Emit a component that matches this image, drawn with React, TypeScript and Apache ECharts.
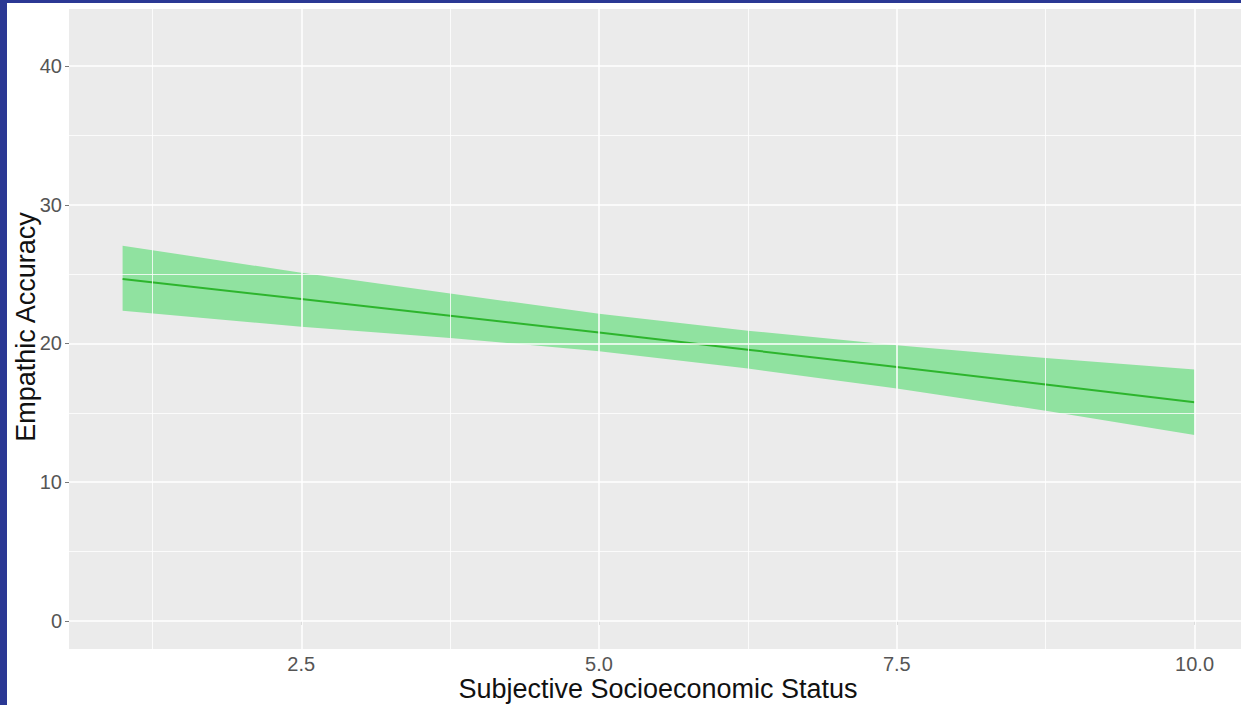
import React, { useEffect, useRef } from "react";
import * as echarts from "echarts";

// Fitted regression line and its confidence band
const xValues = [1, 2.5, 3.75, 5, 6.25, 7.5, 8.75, 10];
const fitValues = [24.65, 23.2, 22.0, 20.8, 19.55, 18.3, 17.05, 15.76];
const upperValues = [27.05, 25.1, 23.6, 22.15, 20.92, 19.88, 18.95, 18.12];
const lowerValues = [22.36, 21.2, 20.4, 19.45, 18.2, 16.75, 15.15, 13.4];

const xTicks = [2.5, 5.0, 7.5, 10.0];
const xMinorTicks = [1.25, 3.75, 6.25, 8.75];
const yTicks = [0, 10, 20, 30, 40];
const yMinorTicks = [5, 15, 25, 35];

const xTitle = "Subjective Socioeconomic Status";
const yTitle = "Empathic Accuracy";

const FONT = "'Liberation Sans', Arial, sans-serif";

export default function App() {
  const ref = useRef<HTMLDivElement>(null);

  useEffect(() => {
    if (!ref.current) return;
    const chart = echarts.init(ref.current, undefined, { renderer: "svg" });

    const gridLines = [
      ...xMinorTicks.map((v) => ({ xAxis: v, lineStyle: { width: 0.8 } })),
      ...yMinorTicks.map((v) => ({ yAxis: v, lineStyle: { width: 0.8 } })),
      ...xTicks.map((v) => ({ xAxis: v, lineStyle: { width: 1.5 } })),
      ...yTicks.map((v) => ({ yAxis: v, lineStyle: { width: 1.5 } })),
    ];

    chart.setOption({
      animation: false,
      backgroundColor: "#ffffff",
      grid: {
        left: 69,
        right: 0,
        top: 9,
        bottom: 56,
        show: true,
        backgroundColor: "#EBEBEB",
        borderWidth: 0,
      },
      xAxis: {
        type: "value",
        min: 0.55,
        max: 10.39,
        splitLine: { show: false },
        axisLine: { show: false },
        axisTick: {
          show: true,
          customValues: xTicks,
          length: 4,
          lineStyle: { color: "#777", width: 1 },
        },
        axisLabel: {
          customValues: xTicks,
          formatter: (v: number) => v.toFixed(1),
          fontSize: 20,
          color: "#555555",
          fontFamily: FONT,
          margin: 5,
        },
      },
      yAxis: {
        type: "value",
        min: -2.02,
        max: 44.11,
        splitLine: { show: false },
        axisLine: { show: false },
        axisTick: {
          show: true,
          customValues: yTicks,
          length: 4,
          lineStyle: { color: "#777", width: 1 },
        },
        axisLabel: {
          customValues: yTicks,
          formatter: (v: number) => String(v),
          fontSize: 20,
          color: "#555555",
          fontFamily: FONT,
          margin: 7,
        },
      },
      graphic: [
        { type: "rect", shape: { x: 0, y: 0, width: 7, height: 705 }, style: { fill: "#2B3894" }, z: 100 },
        { type: "rect", shape: { x: 0, y: 0, width: 1241, height: 3 }, style: { fill: "#2B3894" }, z: 100 },
        {
          type: "text",
          x: 658,
          y: 689,
          style: {
            text: xTitle,
            fontSize: 27,
            fontFamily: FONT,
            fill: "#111111",
            align: "center",
            verticalAlign: "middle",
          },
        },
        {
          type: "text",
          x: 26,
          y: 327,
          rotation: Math.PI / 2,
          style: {
            text: yTitle,
            fontSize: 27,
            fontFamily: FONT,
            fill: "#111111",
            align: "center",
            verticalAlign: "middle",
          },
        },
      ],
      series: [
        {
          type: "line",
          data: [],
          z: 1,
          silent: true,
          markLine: {
            silent: true,
            symbol: ["none", "none"],
            label: { show: false },
            lineStyle: { color: "#ffffff", type: "solid" },
            emphasis: { disabled: true },
            data: gridLines,
          },
        },
        {
          type: "custom",
          z: 2,
          silent: true,
          data: [[xValues[0], upperValues[0]]],
          renderItem: (_params: any, api: any) => {
            const top = xValues.map((x, i) => api.coord([x, upperValues[i]]));
            const bottom = xValues
              .map((x, i) => api.coord([x, lowerValues[i]]))
              .reverse();
            return {
              type: "polygon",
              shape: { points: [...top, ...bottom] },
              style: { fill: "#90E2A0" },
            };
          },
        },
        {
          type: "line",
          z: 3,
          silent: true,
          data: xValues.map((x, i) => [x, fitValues[i]]),
          symbol: "none",
          lineStyle: { color: "#2DB52D", width: 2 },
        },
      ],
    });

    return () => chart.dispose();
  }, []);

  return (
    <div
      ref={ref}
      style={{ position: "absolute", left: 0, top: 0, width: 1241, height: 705 }}
    />
  );
}
